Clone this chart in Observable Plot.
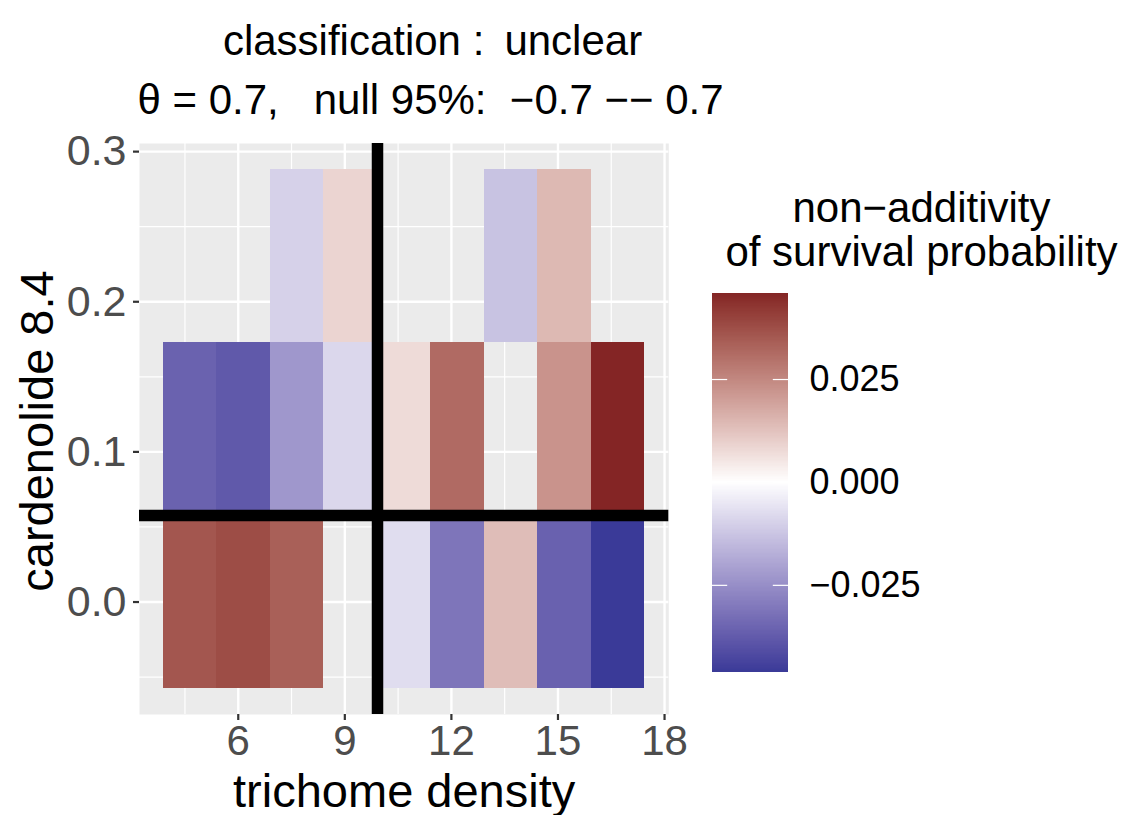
<!DOCTYPE html>
<html><head><meta charset="utf-8">
<script src="https://cdn.jsdelivr.net/npm/d3@7"></script>
<script src="https://cdn.jsdelivr.net/npm/@observablehq/plot@0.6"></script>
<style>
html,body{margin:0;padding:0;background:#fff;overflow:hidden;}
#wrap{position:relative;width:1135px;height:815px;overflow:hidden;font-family:"Liberation Sans",Arial,Helvetica,sans-serif;}
#wrap svg{position:absolute;left:0;top:0;}
</style></head><body><div id="wrap"></div>
<script>
// ---- data ----
const trichome = [4.65, 6.15, 7.66, 9.16, 10.67, 12.17, 13.68, 15.18, 16.69];
const cardenolide = [0, 0.1153, 0.2305];
const nonAdditivityLow  = [0.0357, 0.0378, 0.0336, null, -0.0073, -0.0310, 0.0135, -0.0359, -0.0461];
const nonAdditivityMid  = [-0.0358, -0.0380, -0.0230, -0.0087, 0.0073, 0.0313, null, 0.0224, 0.0459];
const nonAdditivityHigh = [null, null, -0.0099, 0.0088, null, null, -0.0131, 0.0145, null];
const thresholdX = [9.92];
const thresholdY = [0.0577];
const xTicks = [6, 9, 12, 15, 18];
const yTicks = [0, 0.1, 0.2, 0.3];
const xMinor = [4.5, 7.5, 10.5, 13.5, 16.5];
const yMinor = [-0.05, 0.05, 0.15, 0.25];
const legendTicks = [-0.025, 0, 0.025];
const titleLine1 = "classification : \u2009unclear";
const titleLine2 = "\u03B8 = 0.7,   null 95%:  \u22120.7 \u2212\u2212 0.7";
const xLabel = "trichome density";
const yLabel = "cardenolide 8.4";
const legendTitle = "non\u2212additivity\nof survival probability";
const lowColor = "#3A3A98", midColor = "#FFFFFF", highColor = "#832424";

// ---- build table ----
const rows = [nonAdditivityLow, nonAdditivityMid, nonAdditivityHigh];
const tiles = [];
rows.forEach((vals, j) => vals.forEach((v, i) => {
  if (v != null) tiles.push({x: trichome[i], y: cardenolide[j], value: v});
}));
const tw = (trichome[trichome.length - 1] - trichome[0]) / (trichome.length - 1);
const th = (cardenolide[cardenolide.length - 1] - cardenolide[0]) / (cardenolide.length - 1);

const vmin = d3.min(tiles, d => d.value), vmax = d3.max(tiles, d => d.value);
const M = Math.max(-vmin, vmax);
const colorScale = {type: "linear", domain: [-M, M],
  interpolate: d3.piecewise(d3.interpolateLab, [lowColor, midColor, highColor])};

function expand(lo, hi) { const e = (hi - lo) * 0.05; return [lo - e, hi + e]; }
const xDom = expand(trichome[0] - tw / 2, trichome[trichome.length - 1] + tw / 2);
const yDom = expand(cardenolide[0] - th / 2, cardenolide[cardenolide.length - 1] + th / 2);

const W = 1135, H = 815;
const FONT = "Liberation Sans, Arial, Helvetica, sans-serif";
const PL = 139, PR = 668.3, PT = 143, PB = 714;

const main = Plot.plot({
  width: W, height: H,
  marginLeft: PL, marginRight: W - PR, marginTop: PT, marginBottom: H - PB,
  style: {fontFamily: FONT, background: "transparent", overflow: "visible"},
  x: {domain: xDom, axis: null},
  y: {domain: yDom, axis: null},
  color: colorScale,
  marks: [
    Plot.frame({fill: "#EBEBEB", stroke: "none"}),
    Plot.ruleX(xMinor, {stroke: "white", strokeWidth: 1.2}),
    Plot.ruleY(yMinor, {stroke: "white", strokeWidth: 1.2}),
    Plot.ruleX(xTicks, {stroke: "white", strokeWidth: 2.4}),
    Plot.ruleY(yTicks, {stroke: "white", strokeWidth: 2.4}),
    Plot.rect(tiles, {x1: d => d.x - tw / 2, x2: d => d.x + tw / 2,
      y1: d => d.y - th / 2, y2: d => d.y + th / 2, fill: "value", shapeRendering: "crispEdges"}),
    Plot.ruleX(thresholdX, {stroke: "black", strokeWidth: 11.5}),
    Plot.ruleY(thresholdY, {stroke: "black", strokeWidth: 11.5}),
    Plot.axisX(xTicks, {tickSize: 6, tickPadding: 5, fontSize: 42, stroke: "#333333", fill: "#4D4D4D",
      strokeWidth: 2.2, label: null}),
    Plot.axisY(yTicks, {tickSize: 6, tickPadding: 7, fontSize: 43, tickFormat: d3.format(".1f"),
      stroke: "#333333", fill: "#4D4D4D", strokeWidth: 2.2, label: null}),
    Plot.text([xLabel], {frameAnchor: "bottom", dy: 806 - PB, lineAnchor: "bottom", textAnchor: "middle",
      fontSize: 47, fill: "black"}),
    Plot.text([yLabel], {frameAnchor: "left", dx: 52 - PL, dy: 2, rotate: -90, lineAnchor: "bottom",
      textAnchor: "middle", fontSize: 47, fill: "black"}),
    Plot.text([titleLine1], {frameAnchor: "top-left", dx: 432 - PL, dy: 54 - PT, lineAnchor: "bottom",
      textAnchor: "middle", fontSize: 42, fill: "black"}),
    Plot.text([titleLine2], {frameAnchor: "top-left", dx: 430 - PL, dy: 113 - PT, lineAnchor: "bottom",
      textAnchor: "middle", fontSize: 42, fill: "black"})
  ]
});

// ---- vertical colourbar legend ----
const nb = 300;
const bins = d3.range(nb).map(i => [vmin + (vmax - vmin) * i / nb, vmin + (vmax - vmin) * (i + 1) / nb]);
const LL = 712, LR = 788, LT = 293, LB = 671.7;
const legend = Plot.plot({
  width: W, height: H,
  marginLeft: LL, marginRight: W - LR, marginTop: LT, marginBottom: H - LB,
  style: {fontFamily: FONT, background: "transparent", overflow: "visible"},
  x: {domain: [0, 1], axis: null},
  y: {domain: [vmin, vmax], axis: null},
  color: colorScale,
  marks: [
    Plot.rect(bins, {x1: 0, x2: 1, y1: d => d[0], y2: d => d[1], fill: d => (d[0] + d[1]) / 2, shapeRendering: "crispEdges"}),
    Plot.ruleY(legendTicks, {x1: 0, x2: 0.2, stroke: "white", strokeWidth: 1.2}),
    Plot.ruleY(legendTicks, {x1: 0.8, x2: 1, stroke: "white", strokeWidth: 1.2}),
    Plot.text(legendTicks, {x: 1, y: d => d, text: d => d3.format(".3f")(d), dx: 21, textAnchor: "start",
      fontSize: 36, fill: "black"}),
    Plot.text([legendTitle], {frameAnchor: "top-left", dx: 921 - LL, dy: 265 - LT, lineAnchor: "bottom",
      textAnchor: "middle", lineHeight: 1.03, fontSize: 42, fill: "black"})
  ]
});

document.getElementById("wrap").append(main, legend);
</script>
</body></html>
